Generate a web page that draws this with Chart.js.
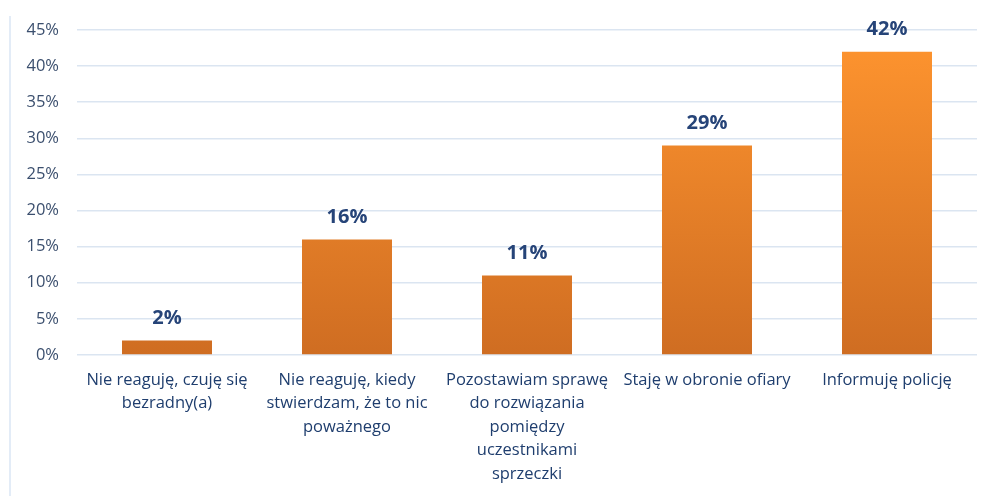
<!DOCTYPE html>
<html><head><meta charset="utf-8">
<script src="https://cdn.jsdelivr.net/npm/chart.js@4"></script>
<style>
html,body{margin:0;padding:0;background:#fff;}
#wrap{position:relative;width:987px;height:496px;}
#vline{position:absolute;left:9px;top:16px;width:2px;height:480px;background:#e3ecf7;}
canvas{position:absolute;left:0;top:0;}
</style></head>
<body><div id="wrap"><div id="vline"></div><canvas id="c" width="987" height="496"></canvas></div>
<script>
const categories = [
  ["Nie reaguję, czuję się","bezradny(a)"],
  ["Nie reaguję, kiedy","stwierdzam, że to nic","poważnego"],
  ["Pozostawiam sprawę","do rozwiązania","pomiędzy","uczestnikami","sprzeczki"],
  ["Staję w obronie ofiary"],
  ["Informuję policję"]
];
const values = [2, 16, 11, 29, 42];
const yTicks = [0,5,10,15,20,25,30,35,40,45];

const labelPlugin = {
  id:'vlabels',
  afterDatasetsDraw(chart){
    const ctx = chart.ctx;
    const meta = chart.getDatasetMeta(0);
    ctx.save();
    ctx.font = 'bold 20px "Open Sans", sans-serif';
    ctx.fillStyle = '#264478';
    ctx.textAlign = 'center';
    ctx.textBaseline = 'middle';
    meta.data.forEach((el,i)=>{
      ctx.fillText(values[i]+'%', el.x, el.y-22);
    });
    ctx.restore();
  }
};

new Chart(document.getElementById('c'), {
  type:'bar',
  data:{labels:categories, datasets:[{
    data:values,
    backgroundColor:(ctx)=>{
      const ca = ctx.chart.chartArea;
      if(!ca) return '#f28a2c';
      const g = ctx.chart.ctx.createLinearGradient(0, ca.top, 0, ca.bottom);
      g.addColorStop(0,'#ff952f');
      g.addColorStop(1,'#cf6d22');
      return g;
    },
    borderWidth:0,
    barPercentage:0.5,
    categoryPercentage:1.0
  }]},
  options:{
    responsive:false, animation:false,
    layout:{padding:{left:0,right:10,top:30,bottom:0}},
    plugins:{legend:{display:false},tooltip:{enabled:false}},
    scales:{
      y:{
        min:0,max:45,
        afterBuildTicks:(s)=>{s.ticks = yTicks.map(v=>({value:v}));},
        afterFit:(s)=>{s.width = 77;},
        grid:{color:'#dbe5f1',lineWidth:1.5,drawTicks:false},
        border:{display:false},
        ticks:{padding:18,color:'#3b4f6e',font:{family:'"Open Sans", sans-serif',size:16.5},
          callback:(v)=>v+'%'}
      },
      x:{
        afterFit:(s)=>{s.height = 141;},
        grid:{display:false,drawTicks:false},
        border:{display:false},
        ticks:{padding:13,color:'#1f3e6e',maxRotation:0,autoSkip:false,
          font:{family:'"Open Sans", sans-serif',size:16.5,lineHeight:1.43}}
      }
    }
  },
  plugins:[labelPlugin]
});
</script></body></html>
